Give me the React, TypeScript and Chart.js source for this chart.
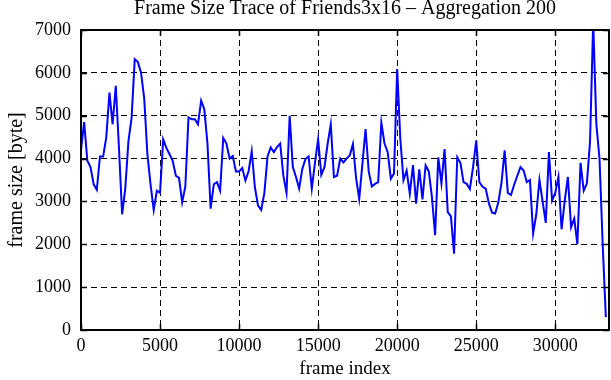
import React, { useEffect, useRef } from 'react';
import { Chart, registerables } from 'chart.js';

Chart.register(...registerables);

const AGGREGATION = 200;

const frameSize: number[] = [
  4200, 4850, 3950, 3800, 3400, 3270, 4050, 4050, 4500, 5540,
  4800, 5700, 4260, 2700, 3300, 4400, 4950, 6320, 6250, 6000,
  5400, 4100, 3400, 2800, 3250, 3200, 4450, 4250, 4100, 3950,
  3600, 3550, 2980, 3350, 4960, 4920, 4920, 4800, 5350, 5150,
  4350, 2830, 3400, 3450, 3250, 4480, 4350, 4000, 4060, 3700,
  3700, 3780, 3490, 3700, 4170, 3330, 2900, 2800, 3200, 4050,
  4260, 4150, 4270, 4350, 3600, 3200, 5000, 3800, 3570, 3300,
  3760, 3990, 4050, 3300, 3900, 4450, 3620, 3800, 4340, 4800,
  3570, 3600, 4000, 3910, 4000, 4070, 4340, 3550, 3060, 3870,
  4690, 3700, 3350, 3410, 3450, 4840, 4350, 4150, 3530, 3650,
  6090, 4450, 3500, 3720, 3180, 3850, 2950, 3750, 3050, 3840,
  3700, 3100, 2210, 4030, 3420, 4220, 2750, 2650, 1780, 4030,
  3900, 3450, 3410, 3290, 3800, 4420, 3450, 3340, 3300, 2960,
  2740, 2720, 2980, 3440, 4190, 3200, 3150, 3390, 3600, 3800,
  3720, 3450, 3500, 2250, 2700, 3500, 3000, 2500, 4150, 3020,
  3200, 3570, 2350, 3020, 3570, 2400, 2600, 2000, 3900, 3250,
  3420, 4400, 7200, 4800, 4000, 2000, 300,
];

const xTicks: number[] = [0, 5000, 10000, 15000, 20000, 25000, 30000];
const yTicks: number[] = [0, 1000, 2000, 3000, 4000, 5000, 6000, 7000];
const X_MAX = 33400;
const Y_MAX = 7000;

const TITLE = 'Frame Size Trace of Friends3x16 \u2013 Aggregation 200';
const X_TITLE = 'frame index';
const Y_TITLE = 'frame size [byte]';

const FONT = '"Liberation Serif", "DejaVu Serif", "Times New Roman", serif';

const frameBorder = {
  id: 'frameBorder',
  afterDraw(chart: any) {
    const { ctx, chartArea, scales } = chart;
    const { left, right, top, bottom } = chartArea;
    const x = scales.x;
    const y = scales.y;
    ctx.save();
    ctx.setLineDash([]);
    ctx.strokeStyle = '#000';
    ctx.lineWidth = 1.5;
    const L = 6;
    ctx.beginPath();
    for (const v of xTicks) {
      const px = Math.round(x.getPixelForValue(v)) + 0.5;
      ctx.moveTo(px, bottom);
      ctx.lineTo(px, bottom - L);
      ctx.moveTo(px, top);
      ctx.lineTo(px, top + L);
    }
    for (const v of yTicks) {
      const py = Math.round(y.getPixelForValue(v)) + 0.5;
      ctx.moveTo(left, py);
      ctx.lineTo(left + L, py);
      ctx.moveTo(right, py);
      ctx.lineTo(right - L, py);
    }
    ctx.stroke();
    ctx.lineWidth = 2;
    ctx.strokeRect(left, top, right - left, bottom - top);
    ctx.restore();
  },
};

export default function App() {
  const ref = useRef<HTMLCanvasElement | null>(null);

  useEffect(() => {
    if (!ref.current) return;
    const points = frameSize.map((v, i) => ({ x: i * AGGREGATION, y: v }));
    const chart = new Chart(ref.current, {
      type: 'line',
      data: {
        datasets: [
          {
            data: points,
            borderColor: '#0000ff',
            borderWidth: 2,
            pointRadius: 0,
            fill: false,
            tension: 0,
          },
        ],
      },
      options: {
        animation: false,
        responsive: true,
        maintainAspectRatio: false,
        layout: { padding: { left: 0, right: 2, top: 0, bottom: 0 } },
        plugins: {
          legend: { display: false },
          tooltip: { enabled: false },
          title: {
            display: true,
            fullSize: false,
            text: TITLE,
            color: '#000',
            font: { family: FONT, size: 20, weight: 'normal', lineHeight: 0.8 },
            padding: { top: 1, bottom: 13 },
          },
        },
        scales: {
          x: {
            type: 'linear',
            min: 0,
            max: X_MAX,
            afterBuildTicks: (scale: any) => {
              scale.ticks = xTicks.map((v) => ({ value: v }));
            },
            afterFit: (scale: any) => {
              scale.height = 50;
            },
            ticks: {
              color: '#000',
              font: { family: FONT, size: 18 },
              padding: 5,
              maxRotation: 0,
              autoSkip: false,
              callback: (v: any) => String(v),
            },
            grid: { color: '#000', lineWidth: 1, drawTicks: false },
            border: { display: false, dash: [6, 4] },
            title: {
              display: true,
              text: X_TITLE,
              color: '#000',
              font: { family: FONT, size: 19, lineHeight: 1.2 },
              padding: { top: 0, bottom: 0 },
            },
          },
          y: {
            type: 'linear',
            min: 0,
            max: Y_MAX,
            afterBuildTicks: (scale: any) => {
              scale.ticks = yTicks.map((v) => ({ value: v }));
            },
            afterFit: (scale: any) => {
              scale.width = 81;
            },
            ticks: {
              color: '#000',
              font: { family: FONT, size: 18 },
              padding: 10,
              autoSkip: false,
              callback: (v: any) => String(v),
            },
            grid: { color: '#000', lineWidth: 1, drawTicks: false },
            border: { display: false, dash: [6, 4] },
            title: {
              display: true,
              text: Y_TITLE,
              color: '#000',
              font: { family: FONT, size: 20, lineHeight: 1.2 },
              padding: { top: 5, bottom: 0 },
            },
          },
        },
      },
      plugins: [frameBorder],
    });
    return () => chart.destroy();
  }, []);

  return (
    <div style={{ position: 'fixed', left: 0, top: 0, width: 611, height: 380 }}>
      <canvas ref={ref} />
    </div>
  );
}
